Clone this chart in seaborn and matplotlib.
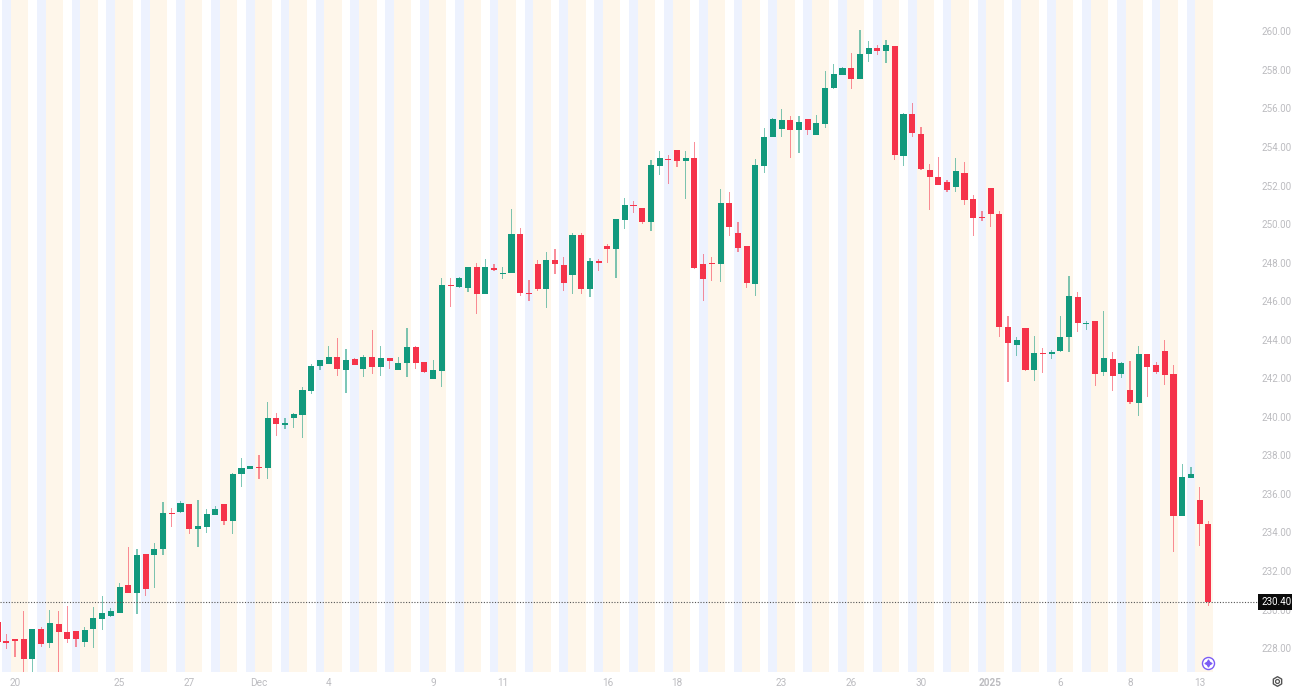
import numpy as np
import pandas as pd
import matplotlib
matplotlib.use("Agg")
import matplotlib.pyplot as plt
import seaborn as sns

opens = [229.37,228.37,228.45,228.45,227.42,229.00,228.28,229.23,228.85,228.89,
         228.30,228.97,229.53,229.65,229.82,231.29,230.84,232.88,232.85,233.14,
         235.01,235.08,235.50,234.16,234.27,234.93,235.46,234.58,237.02,237.31,
         237.40,237.33,239.94,239.60,239.94,240.11,241.36,242.64,242.76,243.10,
         242.45,243.00,242.46,243.10,242.60,243.03,242.45,242.81,243.64,242.83,
         241.96,242.38,246.86,246.72,246.68,247.79,246.37,247.72,247.41,247.46,
         249.49,246.41,247.93,246.62,248.14,247.90,247.35,249.46,246.65,248.09,
         248.85,248.73,250.20,251.01,250.86,250.12,253.04,253.40,253.87,253.28,
         253.42,247.92,247.99,247.95,251.12,249.53,248.85,246.88,253.04,254.53,
         254.96,255.41,254.87,255.43,254.60,255.18,257.05,257.76,258.09,257.55,
         258.84,259.16,258.96,259.23,253.56,255.70,254.68,252.83,252.45,252.17,
         251.95,252.66,251.29,250.39,251.86,250.51,244.66,243.74,244.63,242.45,
         243.33,243.26,243.40,244.14,246.20,244.83,244.97,242.31,243.02,242.20,
         241.41,240.73,243.24,242.67,243.41,242.22,234.86,236.84,235.70,234.46]
closes = [228.30,228.28,228.39,227.45,229.00,228.20,229.29,228.82,228.49,228.47,
          228.96,229.55,229.80,229.91,231.19,230.84,232.83,231.07,233.16,235.03,
          234.96,235.51,234.16,234.35,234.96,235.20,234.58,237.04,237.33,237.43,
          237.37,239.94,239.65,239.66,240.14,241.39,242.62,242.95,243.10,242.46,
          242.97,242.71,243.10,242.60,243.07,242.88,242.81,243.64,242.77,242.31,
          242.43,246.84,246.81,247.20,247.79,246.37,247.79,247.60,247.46,249.49,
          246.44,246.36,246.65,248.14,247.93,246.97,249.46,246.65,248.07,248.00,
          248.73,250.25,251.01,250.95,250.12,253.06,253.45,253.35,253.30,253.42,
          247.71,247.14,247.94,251.12,249.84,248.77,246.93,253.09,254.54,255.46,
          255.41,254.86,255.31,254.87,255.24,257.07,257.78,258.11,257.55,258.85,
          259.13,258.99,259.30,253.59,255.70,254.73,252.85,252.47,252.05,251.79,
          252.78,251.24,250.32,250.34,250.51,244.64,243.81,243.99,242.43,243.31,
          243.28,243.36,244.12,246.25,244.89,244.88,242.24,243.07,242.13,242.81,
          240.77,243.24,242.58,242.31,242.17,234.84,236.90,237.02,234.44,230.40]
highs = [229.60,228.72,228.47,229.93,229.00,229.11,230.00,229.93,230.17,228.89,
         229.10,230.13,230.70,230.08,231.40,233.25,233.16,232.88,233.47,235.57,
         235.27,235.63,235.50,235.67,235.24,235.36,235.46,237.10,237.88,237.47,
         238.00,240.75,240.18,239.92,240.20,241.53,242.74,242.95,243.67,244.09,
         243.52,243.03,243.21,244.50,243.67,243.03,243.10,244.59,243.69,242.86,
         242.97,247.20,247.20,247.26,247.79,247.96,248.19,247.95,247.76,250.77,
         249.78,247.10,248.14,248.57,248.71,248.30,249.53,249.53,248.25,248.18,
         248.96,250.25,251.36,251.20,250.86,253.32,253.77,253.57,253.87,253.77,
         254.25,248.47,248.30,251.83,251.65,250.10,248.85,253.38,254.98,255.53,
         255.96,255.62,255.62,255.43,255.67,257.95,258.32,258.14,258.87,260.08,
         259.49,259.30,259.53,259.23,255.77,256.29,255.06,253.11,253.49,252.31,
         253.45,253.23,251.52,250.67,251.89,250.68,245.23,244.12,244.63,244.18,
         243.55,243.47,245.25,247.31,246.46,244.97,244.97,245.51,243.38,242.83,
         242.90,243.67,243.24,242.86,243.99,242.67,237.57,237.40,236.34,234.58]
lows = [228.20,227.95,227.52,226.78,226.78,228.07,227.99,226.78,228.28,228.06,
        228.06,228.02,228.94,229.63,229.80,230.84,229.75,230.72,231.14,232.85,
        234.27,235.01,233.92,233.27,233.99,234.93,234.39,233.94,236.34,237.28,
        236.76,236.76,239.03,239.35,239.40,238.90,241.17,242.41,242.72,242.10,
        241.25,242.67,242.07,242.20,242.13,242.48,242.43,242.07,242.48,242.29,
        241.94,241.56,245.70,246.70,246.48,245.33,246.37,247.58,247.17,247.45,
        246.27,246.03,246.55,245.65,247.41,246.53,246.40,246.40,246.24,247.57,
        247.99,247.21,249.75,250.58,250.03,249.63,252.55,252.10,252.99,251.31,
        247.69,246.01,247.04,247.00,249.39,248.57,246.71,246.29,252.66,254.51,
        254.54,253.44,253.68,254.60,254.60,254.98,257.00,257.75,257.02,257.55,
        258.40,258.78,258.37,253.35,253.04,254.53,252.83,250.74,252.04,251.66,
        251.67,250.98,249.39,250.18,249.87,244.14,241.82,243.16,242.36,241.87,
        242.27,243.00,243.38,243.36,244.38,244.49,241.60,242.12,241.34,242.03,
        240.68,240.04,241.03,242.20,241.67,233.00,234.84,236.83,233.32,230.20]

session_cycle = ["regular", "pre", "post", "post"]
session_colors = {"pre": "#edf2fe", "post": "#fef6ea"}

date_ticks = [2, 14, 22, 30, 38, 50, 58, 70, 78, 90, 98, 106, 114, 122, 130, 138]
date_labels = ["20", "25", "27", "Dec", "4", "9", "11", "16", "18", "23", "26", "30",
               "2025", "6", "8", "13"]
price_ticks = [228, 230, 232, 234, 236, 238, 240, 242, 244, 246, 248, 250, 252, 254,
               256, 258, 260]
last_price = 230.40

UP, DOWN = "#12997d", "#f5334a"
TXT = "#bcbcc0"

sns.set_theme(style="white")
plt.rcParams["font.family"] = ["Roboto", "DejaVu Sans"]

df = pd.DataFrame({"i": np.arange(len(opens)), "open": opens, "close": closes,
                   "high": highs, "low": lows})
df["dir"] = np.where(df["close"] >= df["open"], "up", "down")
df["top"] = df[["open", "close"]].max(axis=1)
df["bot"] = df[["open", "close"]].min(axis=1)
df["body"] = (df["top"] - df["bot"]).clip(lower=0.05)
df["range"] = df["high"] - df["low"]

fig = plt.figure(figsize=(12.92, 6.88), dpi=100)
ax = fig.add_axes([0, 16 / 688, 1, 672 / 688])

for i in df["i"]:
    s = session_cycle[i % 4]
    if s in session_colors:
        ax.axvspan(i - .5, i + .5, color=session_colors[s], lw=0, zorder=0)

for d, col in [("up", UP), ("down", DOWN)]:
    sub = df[df["dir"] == d]
    sns.barplot(data=sub, x="i", y="range", bottom=sub["low"].values, native_scale=True,
                color=col, saturation=1, errorbar=None, width=0.14, linewidth=0,
                alpha=0.55, ax=ax, zorder=2)
    sns.barplot(data=sub, x="i", y="body", bottom=sub["bot"].values, native_scale=True,
                color=col, saturation=1, errorbar=None, width=0.70, linewidth=0,
                ax=ax, zorder=3)

ax.axhline(last_price, color="#555555", lw=0.8, ls=(0, (1, 1.5)), zorder=4)

ax.set_xlim(0.2755, 148.6)
ax.set_ylim(226.76, 261.63)
ax.set_xlabel("")
ax.set_ylabel("")
sns.despine(ax=ax, left=True, bottom=True, right=True, top=True)

ax.set_xticks(date_ticks)
ax.set_xticklabels(date_labels, fontsize=7.2, color=TXT)
for lab, txt in zip(ax.get_xticklabels(), date_labels):
    if txt == "2025":
        lab.set_fontweight("bold")
ax.tick_params(axis="x", length=0, pad=4)

ax.yaxis.tick_right()
ax.set_yticks(price_ticks)
ax.set_yticklabels([f"{p:.2f}" for p in price_ticks], fontsize=7.0, color=TXT, ha="right")
ax.tick_params(axis="y", length=0, pad=-0.3, direction="in")
ax.grid(False)

ax.annotate(f"{last_price:.2f}", xy=(1, last_price), xycoords=("axes fraction", "data"),
            xytext=(-0.6, 0), textcoords="offset points", ha="right", va="center",
            fontsize=7.0, color="white", zorder=10, annotation_clip=False,
            bbox=dict(boxstyle="square,pad=0.32", fc="#0b0b0b", ec="none"))

# small chart widgets
ax.scatter([0.9353], [0.0137], s=75, facecolor="white", edgecolor="#7b5cf5", lw=1.0,
           transform=ax.transAxes, zorder=6, clip_on=False)
ax.scatter([0.9353], [0.0137], s=24, marker=(4, 1, 0), color="#7b5cf5",
           transform=ax.transAxes, zorder=7, clip_on=False)
ax.scatter([0.9885], [-0.0134], s=48, marker="h", facecolor="white", edgecolor="#555555",
           lw=1.0, transform=ax.transAxes, zorder=7, clip_on=False)
ax.scatter([0.9885], [-0.0134], s=8, marker="o", facecolor="white", edgecolor="#555555",
           lw=0.9, transform=ax.transAxes, zorder=8, clip_on=False)

fig.savefig("out.png", dpi=100)
